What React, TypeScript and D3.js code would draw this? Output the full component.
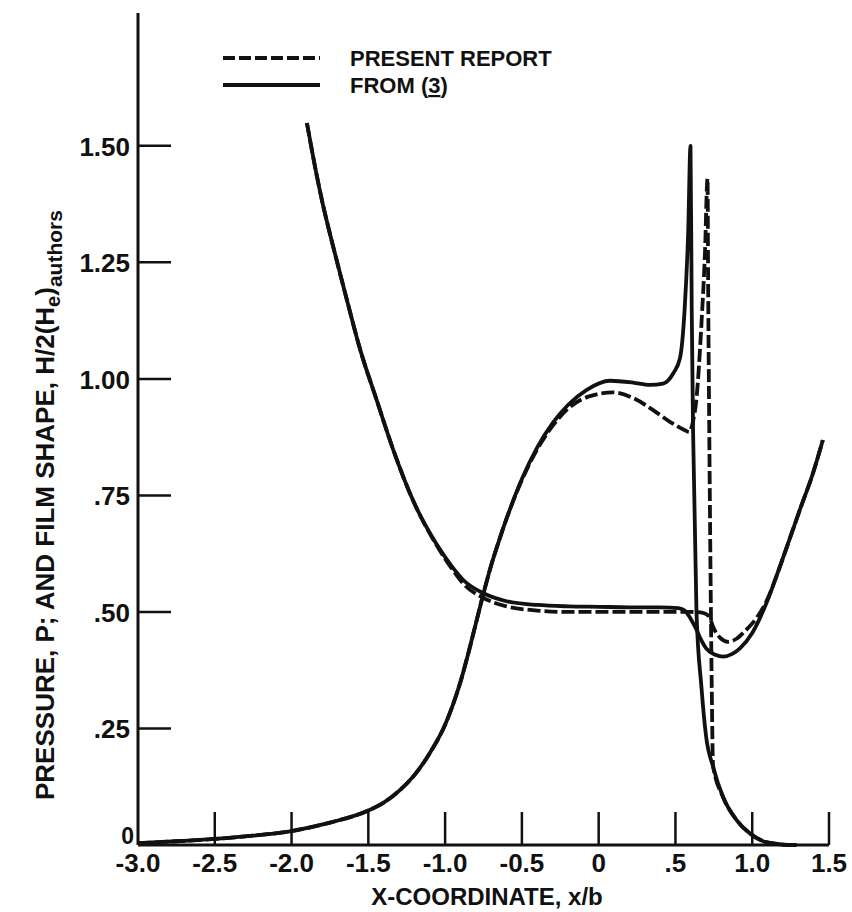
import * as d3 from "d3";
import React from "react";

// x/b, value pairs
const pressureFrom3: [number, number][] = [
  [-3.0, 0.004], [-2.75, 0.008], [-2.5, 0.013], [-2.25, 0.02], [-2.0, 0.03],
  [-1.75, 0.048], [-1.5, 0.074], [-1.4, 0.091], [-1.3, 0.116], [-1.2, 0.15],
  [-1.1, 0.197], [-1.0, 0.258], [-0.95, 0.3], [-0.9, 0.35], [-0.85, 0.41],
  [-0.8, 0.475], [-0.75, 0.54], [-0.7, 0.6], [-0.65, 0.652], [-0.6, 0.7],
  [-0.5, 0.785], [-0.4, 0.853], [-0.3, 0.905], [-0.2, 0.944], [-0.08, 0.976],
  [0.073, 0.996], [0.225, 0.992], [0.333, 0.987], [0.42, 0.99], [0.486, 1.012],
  [0.53, 1.045], [0.56, 1.15], [0.583, 1.315], [0.598, 1.5], [0.606, 1.15],
  [0.615, 0.884], [0.637, 0.5], [0.669, 0.34], [0.7, 0.232], [0.745, 0.168],
  [0.81, 0.103], [0.897, 0.054], [0.984, 0.025], [1.09, 0.006], [1.2, 0.001],
  [1.29, 0.0],
];

const pressurePresent: [number, number][] = [
  [-3.0, 0.004], [-2.75, 0.008], [-2.5, 0.013], [-2.25, 0.02], [-2.0, 0.03],
  [-1.75, 0.048], [-1.5, 0.074], [-1.4, 0.091], [-1.3, 0.116], [-1.2, 0.15],
  [-1.1, 0.197], [-1.0, 0.258], [-0.95, 0.3], [-0.9, 0.35], [-0.85, 0.41],
  [-0.8, 0.475], [-0.75, 0.54], [-0.7, 0.6], [-0.65, 0.652], [-0.6, 0.7],
  [-0.5, 0.783], [-0.4, 0.849], [-0.3, 0.899], [-0.2, 0.936], [-0.057, 0.963],
  [0.094, 0.971], [0.225, 0.959], [0.355, 0.933], [0.464, 0.908], [0.561, 0.89],
  [0.59, 0.886], [0.615, 0.91], [0.637, 0.958], [0.67, 1.122], [0.692, 1.268],
  [0.709, 1.43], [0.713, 1.2], [0.72, 0.9], [0.728, 0.6], [0.736, 0.35],
  [0.745, 0.17], [0.81, 0.103], [0.897, 0.054], [0.984, 0.025], [1.09, 0.006],
  [1.2, 0.001], [1.29, 0.0],
];

const filmFrom3: [number, number][] = [
  [-1.9, 1.549], [-1.85, 1.46], [-1.8, 1.38], [-1.73, 1.285], [-1.64, 1.17],
  [-1.555, 1.065], [-1.446, 0.955], [-1.34, 0.85], [-1.21, 0.74], [-1.055, 0.645],
  [-0.95, 0.595], [-0.88, 0.568], [-0.75, 0.54], [-0.6, 0.523], [-0.4, 0.515],
  [-0.2, 0.512], [0.0, 0.511], [0.2, 0.51], [0.4, 0.51], [0.52, 0.508],
  [0.56, 0.503], [0.6, 0.485], [0.637, 0.462], [0.66, 0.445], [0.7, 0.422],
  [0.76, 0.408], [0.81, 0.404], [0.87, 0.41], [0.92, 0.422], [1.0, 0.455],
  [1.1, 0.525], [1.18, 0.597], [1.31, 0.719], [1.395, 0.797], [1.46, 0.869],
];

const filmPresent: [number, number][] = [
  [-1.9, 1.549], [-1.85, 1.46], [-1.8, 1.38], [-1.73, 1.285], [-1.64, 1.17],
  [-1.555, 1.065], [-1.446, 0.955], [-1.34, 0.85], [-1.21, 0.74], [-1.055, 0.643],
  [-0.95, 0.59], [-0.88, 0.56], [-0.75, 0.53], [-0.6, 0.512], [-0.4, 0.503],
  [-0.2, 0.5], [0.0, 0.5], [0.3, 0.5], [0.5, 0.5], [0.6, 0.5], [0.68, 0.498],
  [0.72, 0.49], [0.745, 0.468], [0.79, 0.445], [0.843, 0.436], [0.9, 0.443],
  [0.95, 0.458], [1.03, 0.488], [1.1, 0.528], [1.18, 0.597], [1.31, 0.719],
  [1.395, 0.797], [1.46, 0.869],
];

const xTicks = [-3.0, -2.5, -2.0, -1.5, -1.0, -0.5, 0, 0.5, 1.0, 1.5];
const xTickLabels = ["-3.0", "-2.5", "-2.0", "-1.5", "-1.0", "-0.5", "0", ".5", "1.0", "1.5"];
const yTicks = [0, 0.25, 0.5, 0.75, 1.0, 1.25, 1.5];
const yTickLabels = ["0", ".25", ".50", ".75", "1.00", "1.25", "1.50"];

const W = 852;
const H = 912;
const font = "'Liberation Sans', Arial, sans-serif";

export default function App() {
  const x = d3.scaleLinear().domain([-3, 1.5]).range([138, 829]);
  const y = d3.scaleLinear().domain([0, 1.785]).range([845, 13]);
  const tick = 33;

  const line = d3
    .line<[number, number]>()
    .x((d) => x(d[0]))
    .y((d) => y(d[1]))
    .curve(d3.curveMonotoneX);

  const dash = "13 4";

  return (
    <svg
      width={W}
      height={H}
      style={{ position: "absolute", left: 0, top: 0, background: "#fff" }}
      fontFamily={font}
      fontWeight="bold"
    >
      {/* axes */}
      <line x1={x(-3)} x2={x(-3)} y1={y(0)} y2={y(1.785)} stroke="#111" strokeWidth={3} />
      <line x1={x(-3)} x2={x(1.5)} y1={y(0)} y2={y(0)} stroke="#111" strokeWidth={3} />
      {xTicks.slice(1).map((t) => (
        <line key={"xt" + t} x1={x(t)} x2={x(t)} y1={y(0)} y2={y(0) - tick} stroke="#111" strokeWidth={2.5} />
      ))}
      {yTicks.slice(1).map((t) => (
        <line key={"yt" + t} x1={x(-3)} x2={x(-3) + tick} y1={y(t)} y2={y(t)} stroke="#111" strokeWidth={2.5} />
      ))}
      {xTicks.map((t, i) => (
        <text key={"xl" + t} x={x(t)} y={y(0) + 27} textAnchor="middle" fontSize={26} fill="#111">
          {xTickLabels[i]}
        </text>
      ))}
      {yTicks.map((t, i) => (
        <text
          key={"yl" + t}
          x={x(-3) - (t === 0 ? 4 : 8)}
          y={t === 0 ? y(t) - 1 : y(t) + 10}
          textAnchor="end"
          fontSize={t === 0 ? 23 : 26}
          fill="#111"
        >
          {yTickLabels[i]}
        </text>
      ))}

      {/* axis titles */}
      <text x={487} y={905} textAnchor="middle" fontSize={24} fill="#111">
        X-COORDINATE, x/b
      </text>
      <text transform="translate(54,800) rotate(-90)" fontSize={26} fill="#111">
        <tspan>PRESSURE, P; AND FILM SHAPE, H/2(H</tspan>
        <tspan fontSize={20} dy={6}>e</tspan>
        <tspan dy={-6}>)</tspan>
        <tspan fontSize={21} dy={8}>authors</tspan>
      </text>

      {/* curves */}
      <g fill="none" stroke="#111" strokeWidth={3.8} strokeLinejoin="round">
        <path d={line(filmPresent) || ""} strokeDasharray={dash} />
        <path d={line(pressurePresent) || ""} strokeDasharray={dash} />
        <path d={line(filmFrom3) || ""} />
        <path d={line(pressureFrom3) || ""} />
      </g>

      {/* legend */}
      <line x1={223} x2={320} y1={58} y2={58} stroke="#111" strokeWidth={4} strokeDasharray="12 4" />
      <line x1={223} x2={320} y1={85} y2={85} stroke="#111" strokeWidth={4} />
      <text x={350} y={66} fontSize={22} fill="#111">PRESENT REPORT</text>
      <text x={350} y={93} fontSize={22} fill="#111">
        FROM (<tspan textDecoration="underline">3</tspan>)
      </text>
    </svg>
  );
}
